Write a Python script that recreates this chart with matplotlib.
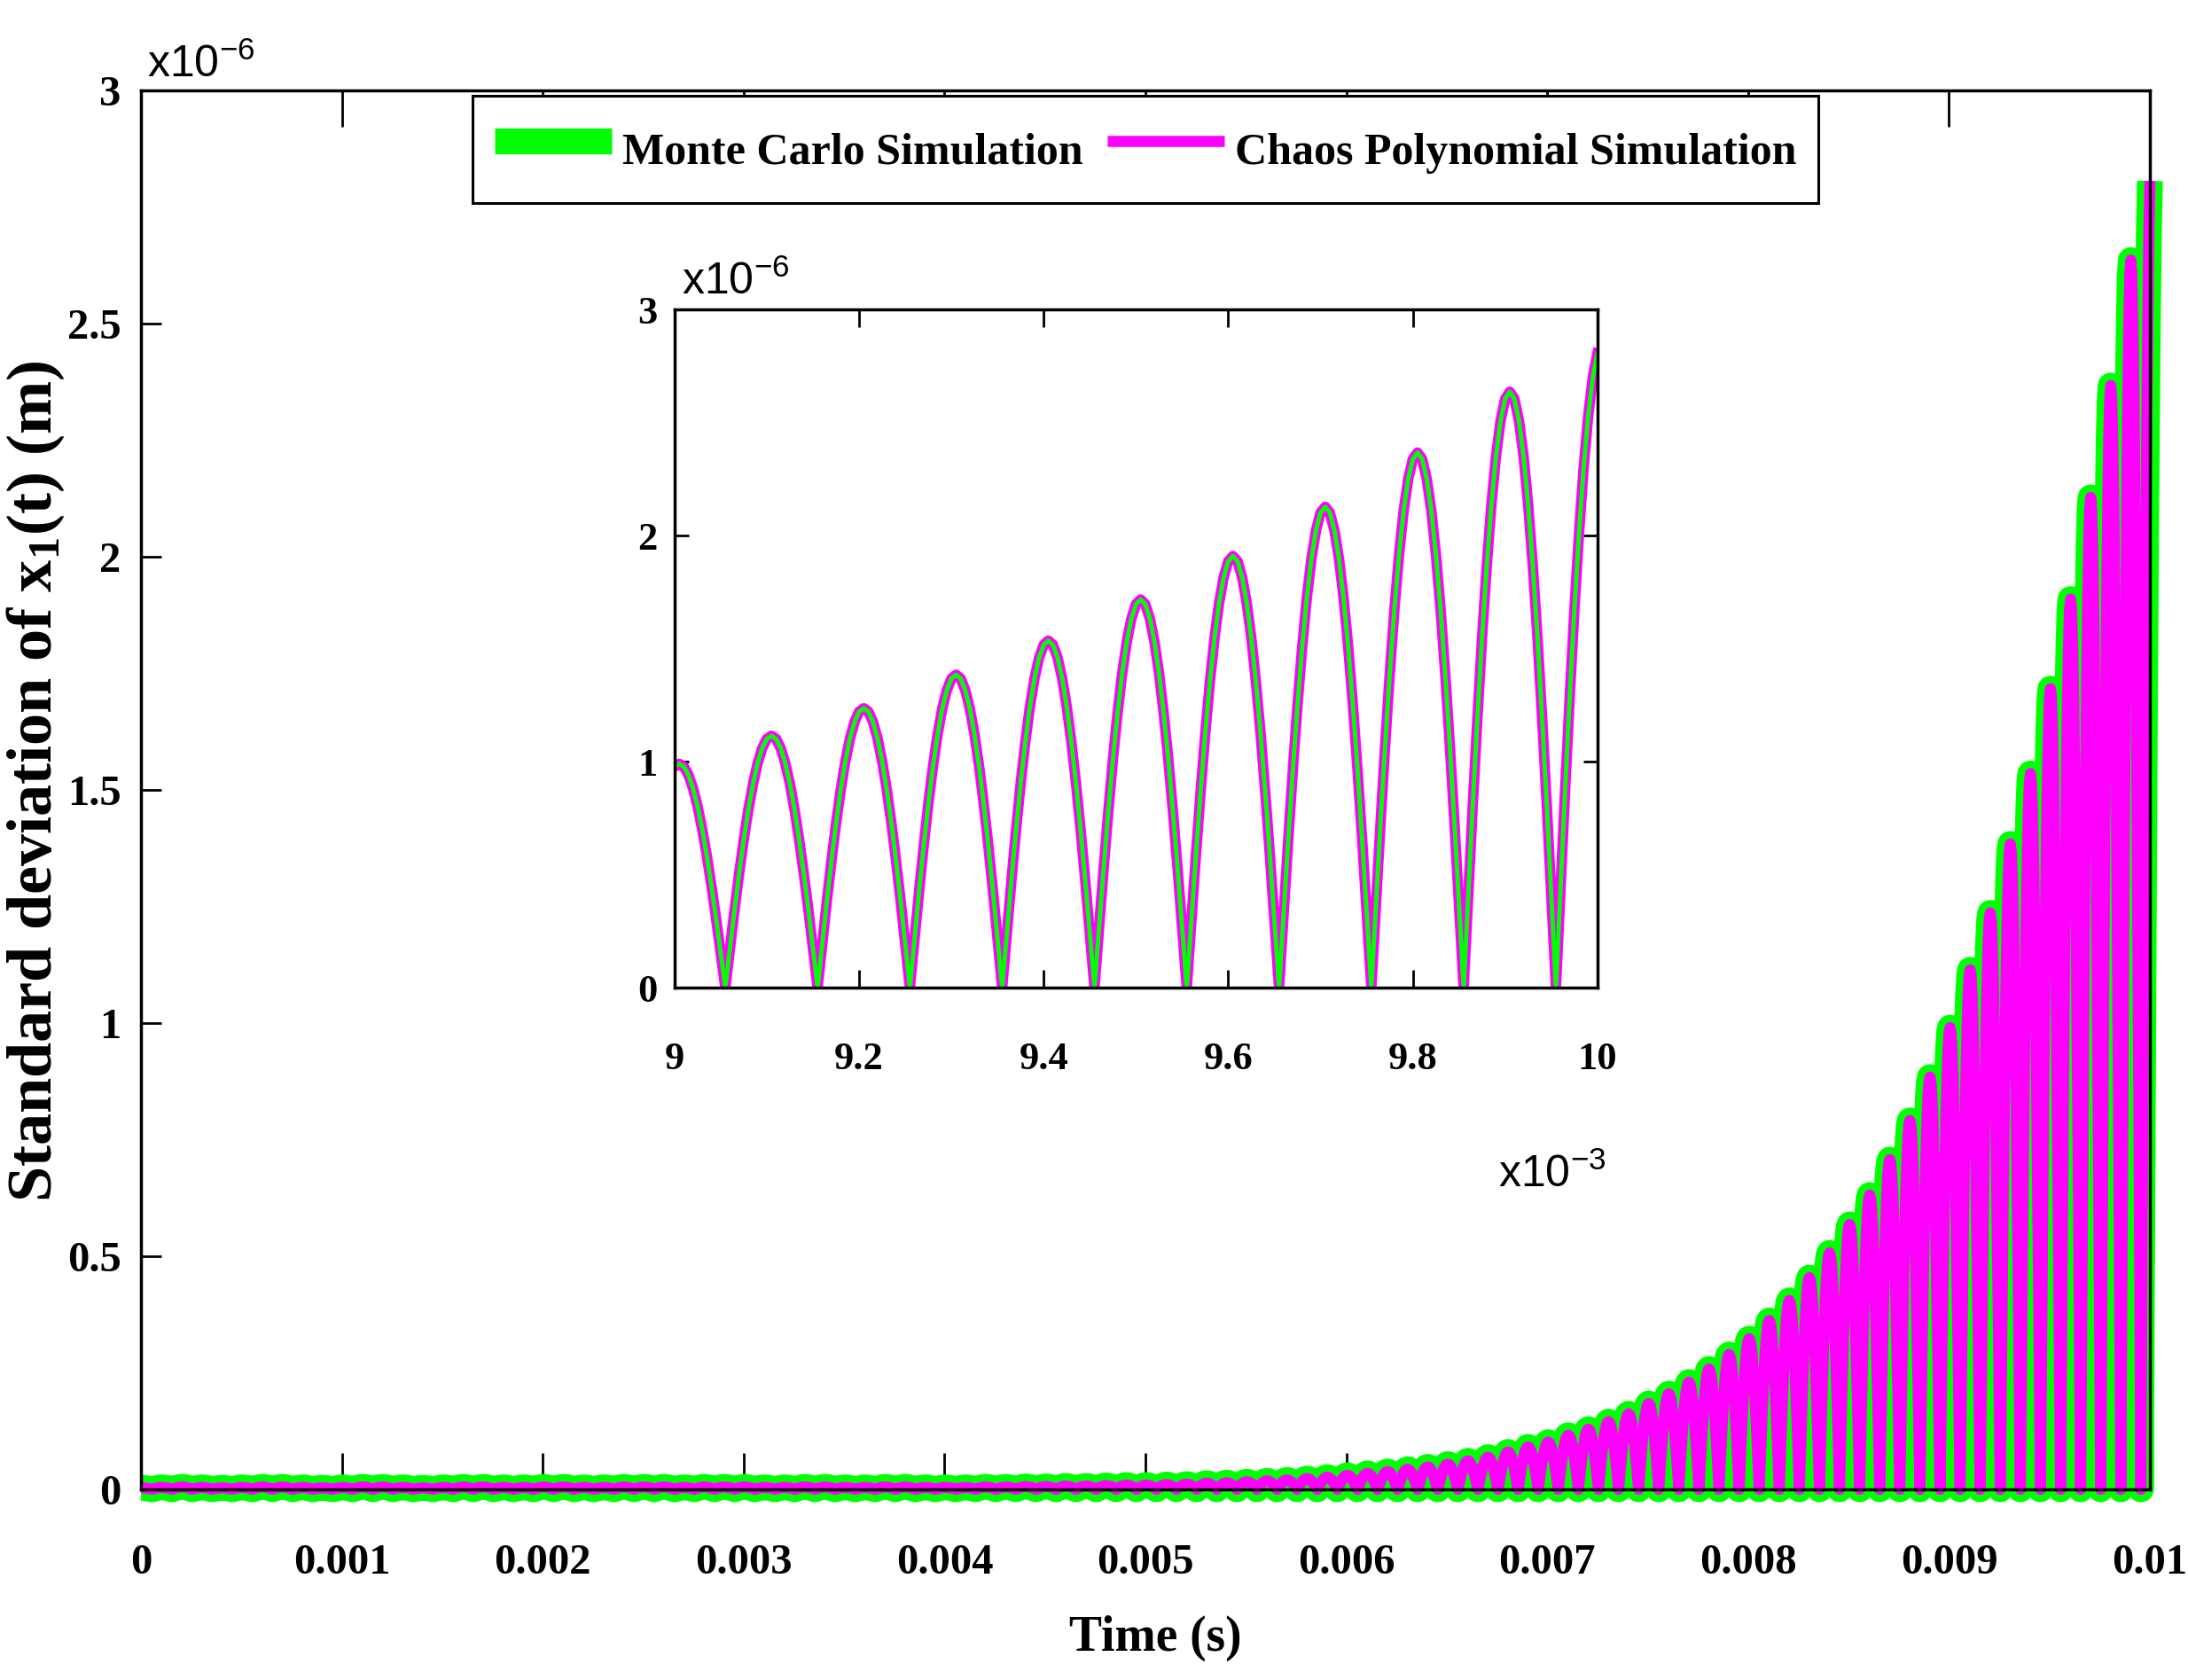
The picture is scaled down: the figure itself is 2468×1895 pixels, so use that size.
import numpy as np
import matplotlib
matplotlib.use('Agg')
from matplotlib import pyplot as plt

# picos de cada lobo |x1| (x1e-6 m); lobo k tem pico em t = 5e-6 + k*1e-4 s
lobe_peaks = [
    0.003, 0.004, 0.005, 0.004, 0.003, 0.004, 0.005, 0.005, 0.004, 0.003,
    0.004, 0.005, 0.005, 0.004, 0.003, 0.004, 0.005, 0.005, 0.004, 0.004,
    0.005, 0.005, 0.004, 0.004, 0.005, 0.005, 0.005, 0.004, 0.005, 0.005,
    0.005, 0.004, 0.004, 0.005, 0.005, 0.004, 0.004, 0.005, 0.005, 0.004,
    0.004, 0.004, 0.005, 0.005, 0.006, 0.006, 0.007, 0.007, 0.008, 0.009,
    0.009, 0.010, 0.011, 0.013, 0.014, 0.016, 0.018, 0.020, 0.023, 0.026,
    0.030, 0.034, 0.038, 0.043, 0.048, 0.054, 0.061, 0.069, 0.080, 0.091,
    0.101, 0.116, 0.129, 0.145, 0.162, 0.184, 0.205, 0.230, 0.258, 0.289,
    0.323, 0.362, 0.405, 0.454, 0.507, 0.568, 0.631, 0.707, 0.791, 0.884,
    0.990, 1.114, 1.236, 1.384, 1.535, 1.717, 1.909, 2.127, 2.367, 2.636,
    2.840,
]
lobe_profile = [0.0, 0.156, 0.309, 0.454, 0.588, 0.707, 0.809, 0.891, 0.951, 0.988,
                1.0, 0.988, 0.951, 0.891, 0.809, 0.707, 0.588, 0.454, 0.309, 0.156]
first_zero = -0.000045   # s
lobe_width = 0.0001      # s

x_ticks = [0, 0.001, 0.002, 0.003, 0.004, 0.005, 0.006, 0.007, 0.008, 0.009, 0.01]
x_tick_labels = ['0', '0.001', '0.002', '0.003', '0.004', '0.005', '0.006',
                 '0.007', '0.008', '0.009', '0.01']
y_ticks = [0, 0.5, 1, 1.5, 2, 2.5, 3]
y_tick_labels = ['0', '0.5', '1', '1.5', '2', '2.5', '3']

zoom_x_ticks = [0.009, 0.0092, 0.0094, 0.0096, 0.0098, 0.01]
zoom_x_labels = ['9', '9.2', '9.4', '9.6', '9.8', '10']
zoom_y_ticks = [0, 1, 2, 3]
zoom_y_labels = ['0', '1', '2', '3']

GREEN = '#00ff00'
MAGENTA = '#ff00ff'

plt.rcParams['font.family'] = ['Liberation Serif', 'DejaVu Serif']
plt.rcParams['font.weight'] = 'bold'
plt.rcParams['axes.labelweight'] = 'bold'
plt.rcParams['mathtext.default'] = 'regular'

# monta a curva a partir dos picos e do perfil do lobo
n_per = len(lobe_profile)
t = first_zero + np.arange(len(lobe_peaks) * n_per) * (lobe_width / n_per)
y = np.repeat(lobe_peaks, n_per) * np.tile(lobe_profile, len(lobe_peaks))
keep = (t > -1e-12) & (t < 0.01 + 1e-12)
t = t[keep]
y = y[keep]

fig = plt.figure(figsize=(24.68, 18.95), dpi=100)
ax = fig.add_axes([0.0644, 0.1135, 0.9182, 0.8327])

ax.plot(t, y, color=GREEN, lw=21, solid_capstyle='butt', solid_joinstyle='round',
        clip_on=False, label='Monte Carlo Simulation')
ax.plot(t, y, color=MAGENTA, lw=9, solid_capstyle='butt', solid_joinstyle='round',
        clip_on=False, label='Chaos Polynomial Simulation')

ax.set_xlim(0, 0.01)
ax.set_ylim(0, 3)
ax.set_xticks(x_ticks)
ax.set_xticklabels(x_tick_labels)
ax.set_yticks(y_ticks)
ax.set_yticklabels(y_tick_labels)
ax.tick_params(axis='both', direction='in', top=True, right=True, width=2, labelsize=35)
ax.tick_params(axis='x', length=29.5, pad=44)
ax.tick_params(axis='y', length=16.5, pad=16)
for s in ax.spines.values():
    s.set_linewidth(2.5)

ax.set_xlabel('Time (s)', fontsize=40, fontweight='bold')
ax.xaxis.set_label_coords(0.505, -0.1065)
ax.xaxis.label.set_va('center')
ax.set_ylabel('Standard deviation of x$_1$(t) (m)', fontsize=52, fontweight='bold')
ax.yaxis.set_label_coords(-0.0525, 0.506)
ax.yaxis.label.set_va('center')

leg = ax.legend(loc='upper center', ncol=2, fontsize=36, frameon=True, fancybox=False,
                edgecolor='black', framealpha=1, borderaxespad=0.13, handlelength=2.65,
                handleheight=1.8, handletextpad=0.23, columnspacing=0.55, borderpad=0.5)
leg.get_frame().set_linewidth(2.2)

# inset com o zoom do final
axi = fig.add_axes([0.3083, 0.4121, 0.4218, 0.4037])
z = (t >= 0.009 - 1e-12)
axi.plot(t[z], y[z], color=MAGENTA, lw=8.5, solid_joinstyle='round')
axi.plot(t[z], y[z], color=GREEN, lw=3.5, solid_joinstyle='round')
axi.set_xlim(0.009, 0.01)
axi.set_ylim(0, 3)
axi.set_xticks(zoom_x_ticks)
axi.set_xticklabels(zoom_x_labels)
axi.set_yticks(zoom_y_ticks)
axi.set_yticklabels(zoom_y_labels)
axi.tick_params(axis='both', direction='in', top=True, right=True, width=2, labelsize=32)
axi.tick_params(axis='x', length=14.4, pad=44)
axi.tick_params(axis='y', length=11.5, pad=14)
for s in axi.spines.values():
    s.set_linewidth(2.5)

# fatores de escala no estilo do matlab
sans = ['Liberation Sans', 'DejaVu Sans']
fig.text(166 / 2468, 1 - 87 / 1895, 'x10$^{-6}$', family=sans, fontweight='normal',
         fontsize=36, ha='left', va='baseline')
fig.text(769 / 2468, 1 - 332 / 1895, 'x10$^{-6}$', family=sans, fontweight='normal',
         fontsize=36, ha='left', va='baseline')
fig.text(1690 / 2468, 1 - 1339 / 1895, 'x10$^{-3}$', family=sans, fontweight='normal',
         fontsize=36, ha='left', va='baseline')

fig.savefig('out.png', dpi=100)
